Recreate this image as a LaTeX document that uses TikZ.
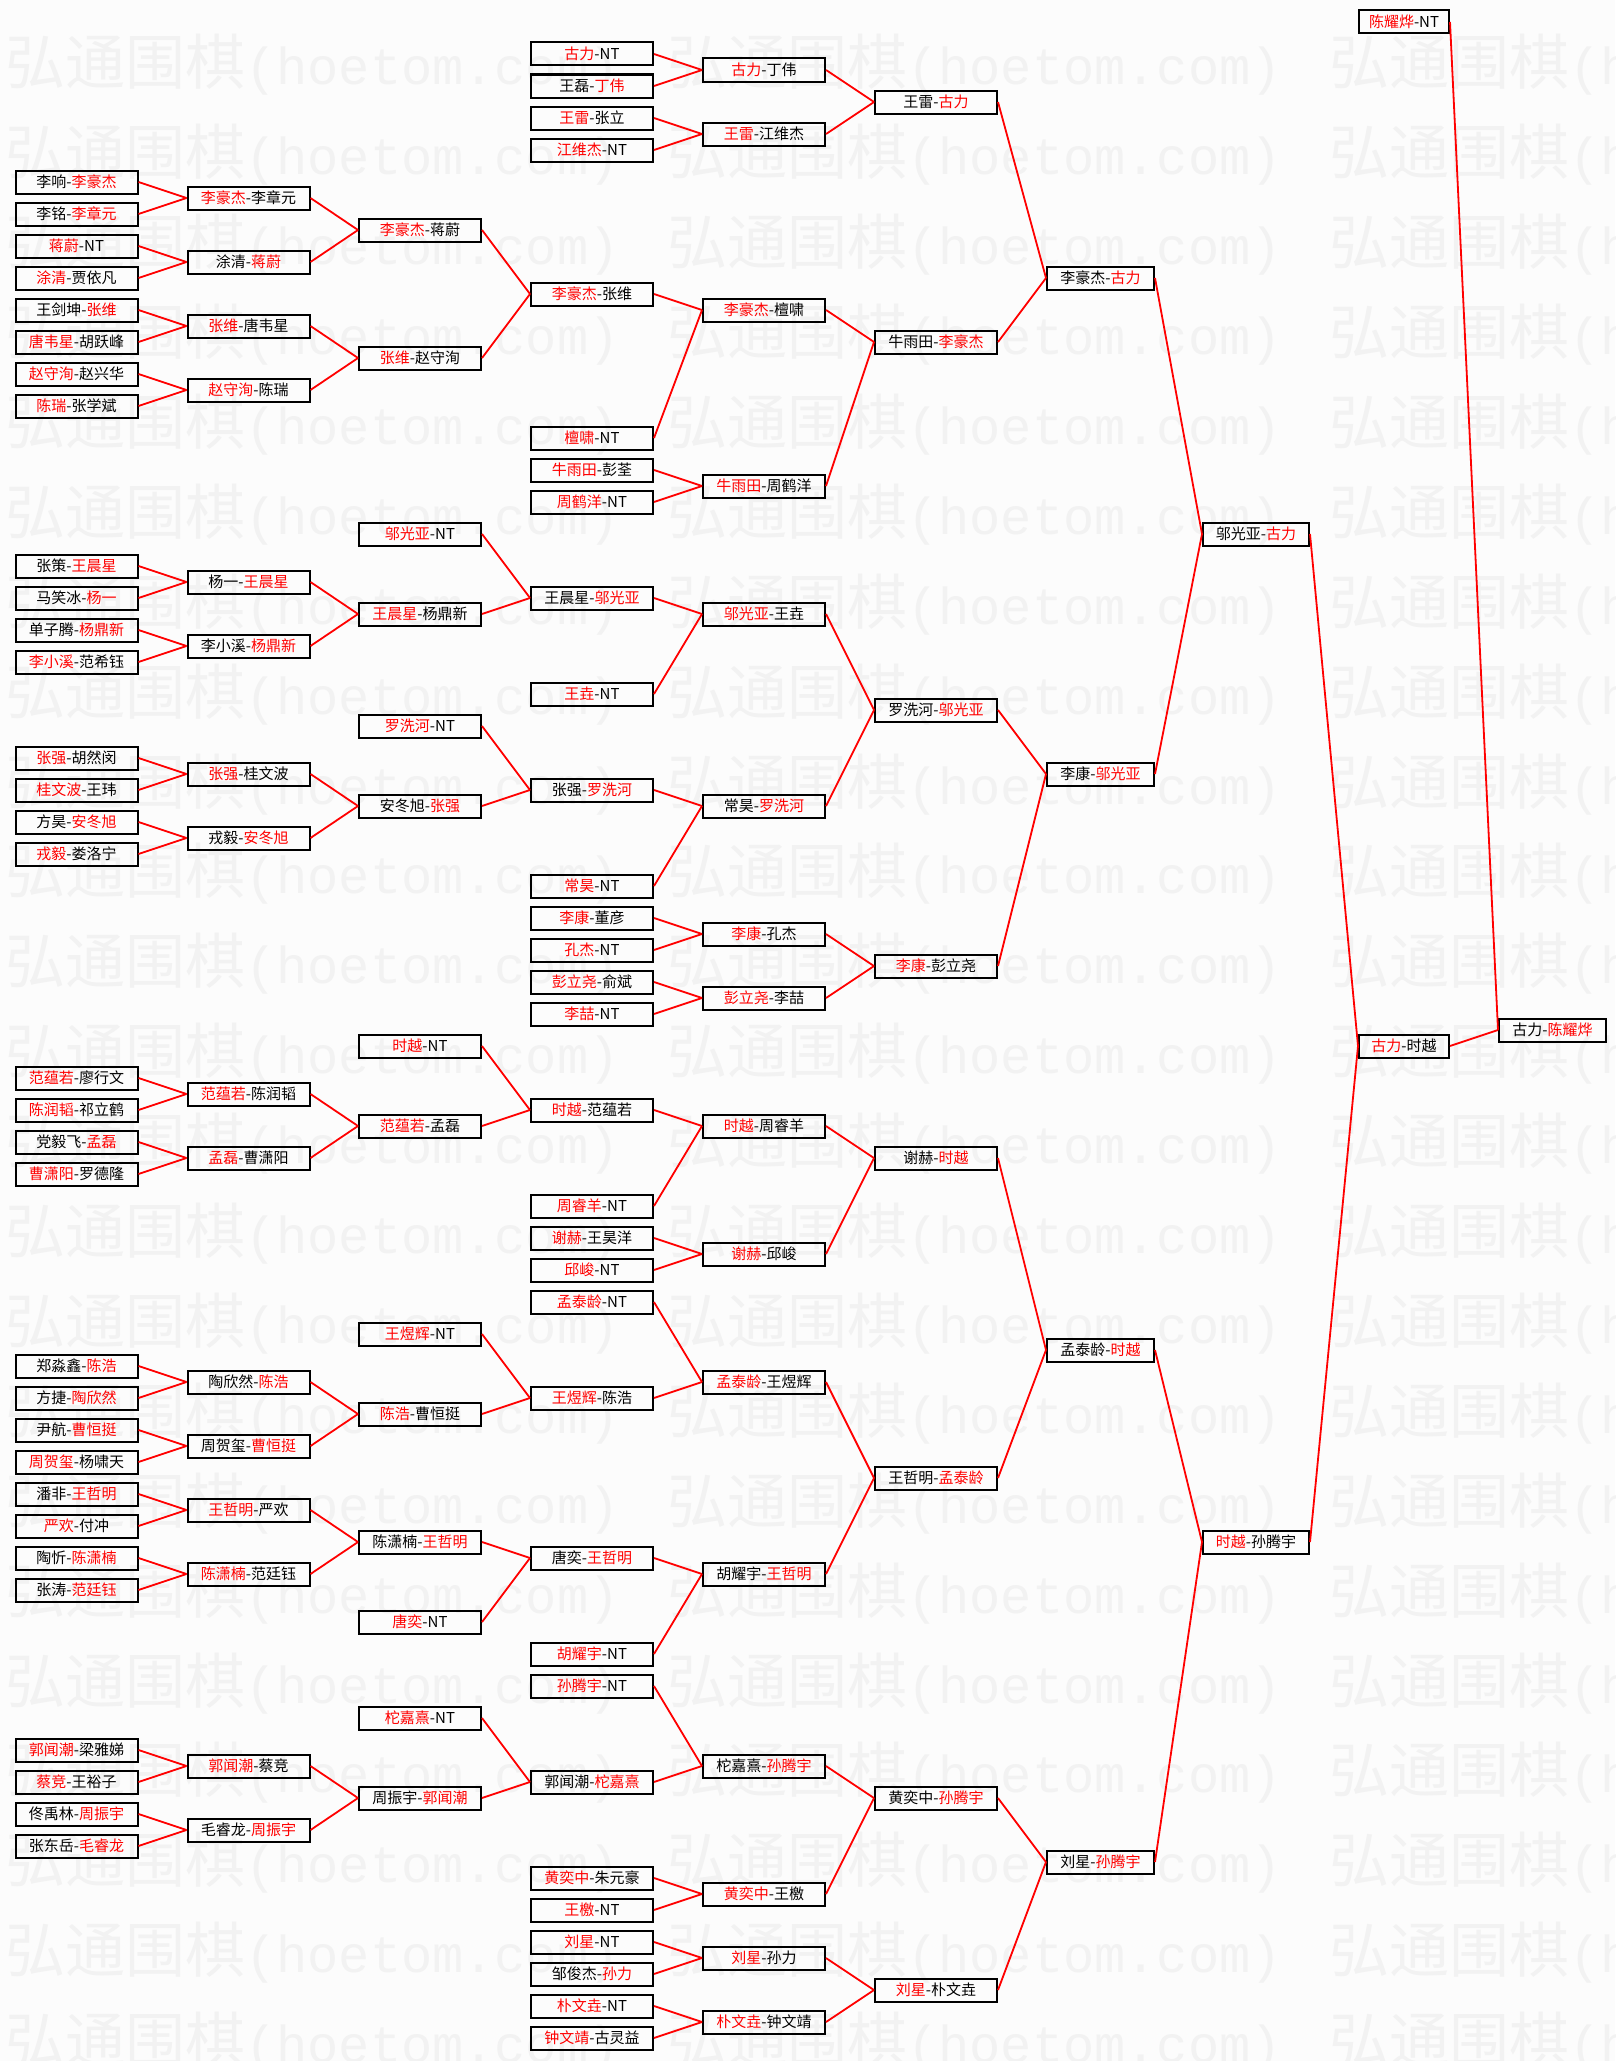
\documentclass[tikz,border=0pt]{standalone}
\usepackage{fontspec}
\setmainfont{Noto Sans CJK SC}
\newfontfamily\wmmono{Liberation Mono}
\definecolor{winred}{RGB}{255,0,0}
\definecolor{paper}{RGB}{252,252,252}
\definecolor{wmgray}{RGB}{242,242,242}
\tikzstyle{game}=[draw, line width=2pt, minimum height=23pt, inner sep=0pt, font=\fontsize{15}{15}\selectfont]
\tikzstyle{link}=[draw=winred, line width=1.8pt]
\newcommand{\wn}[1]{\textcolor{winred}{#1}}
\newcommand{\game}[4]{
\pgfmathsetmacro{\colx}{{0,76.5,248.5,420,592,764,936,1100.5,1256,1404,1552.5}[#2]}
\pgfmathsetmacro{\colw}{{0,122,122,122,122,122,122,107,106,90,107}[#2]}
\node[game, minimum width=\colw pt] (#1) at (\colx,#3) {#4};
}
\newcommand{\feeds}[3]{
\draw[link] (#1.east) -- (#3.west);
\draw[link] (#2.east) -- (#3.west);
}

\begin{document}
\begin{tikzpicture}[x=1pt,y=-32pt]
\fill[paper] (0,-1.6875) rectangle (1615,62.71875);
\useasboundingbox (0,-1.6875) rectangle (1615,62.71875);
% watermark
\begin{scope}
\clip (0,-1.6875) rectangle (1615,62.71875);
\foreach \k in {0,...,22}
  \foreach \s in {0,1,2}
    \node[anchor=west, text=wmgray, inner sep=0pt] (wm-\k-\s) at ({5+662*\s},{(11+89.9*\k)/32})
      {\fontsize{60}{60}\selectfont 弘通围棋{\wmmono\fontsize{52}{52}\selectfont(hoetom.com)}};
\end{scope}

% round 1
\game{a1}{1}{4}{李响-\wn{李豪杰}}
\game{a2}{1}{5}{李铭-\wn{李章元}}
\game{a3}{1}{6}{\wn{蒋蔚}-NT}
\game{a4}{1}{7}{\wn{涂清}-贾依凡}
\game{a5}{1}{8}{王剑坤-\wn{张维}}
\game{a6}{1}{9}{\wn{唐韦星}-胡跃峰}
\game{a7}{1}{10}{\wn{赵守洵}-赵兴华}
\game{a8}{1}{11}{\wn{陈瑞}-张学斌}
\game{a9}{1}{16}{张策-\wn{王晨星}}
\game{a10}{1}{17}{马笑冰-\wn{杨一}}
\game{a11}{1}{18}{单子腾-\wn{杨鼎新}}
\game{a12}{1}{19}{\wn{李小溪}-范希钰}
\game{a13}{1}{22}{\wn{张强}-胡然闵}
\game{a14}{1}{23}{\wn{桂文波}-王玮}
\game{a15}{1}{24}{方昊-\wn{安冬旭}}
\game{a16}{1}{25}{\wn{戎毅}-娄洛宁}
\game{a17}{1}{32}{\wn{范蕴若}-廖行文}
\game{a18}{1}{33}{\wn{陈润韬}-祁立鹤}
\game{a19}{1}{34}{党毅飞-\wn{孟磊}}
\game{a20}{1}{35}{\wn{曹潇阳}-罗德隆}
\game{a21}{1}{41}{郑淼鑫-\wn{陈浩}}
\game{a22}{1}{42}{方捷-\wn{陶欣然}}
\game{a23}{1}{43}{尹航-\wn{曹恒挺}}
\game{a24}{1}{44}{\wn{周贺玺}-杨啸天}
\game{a25}{1}{45}{潘非-\wn{王哲明}}
\game{a26}{1}{46}{\wn{严欢}-付冲}
\game{a27}{1}{47}{陶忻-\wn{陈潇楠}}
\game{a28}{1}{48}{张涛-\wn{范廷钰}}
\game{a29}{1}{53}{\wn{郭闻潮}-梁雅娣}
\game{a30}{1}{54}{\wn{蔡竞}-王裕子}
\game{a31}{1}{55}{佟禹林-\wn{周振宇}}
\game{a32}{1}{56}{张东岳-\wn{毛睿龙}}

% round 2
\game{b1}{2}{4.5}{\wn{李豪杰}-李章元}
\game{b2}{2}{6.5}{涂清-\wn{蒋蔚}}
\game{b3}{2}{8.5}{\wn{张维}-唐韦星}
\game{b4}{2}{10.5}{\wn{赵守洵}-陈瑞}
\game{b5}{2}{16.5}{杨一-\wn{王晨星}}
\game{b6}{2}{18.5}{李小溪-\wn{杨鼎新}}
\game{b7}{2}{22.5}{\wn{张强}-桂文波}
\game{b8}{2}{24.5}{戎毅-\wn{安冬旭}}
\game{b9}{2}{32.5}{\wn{范蕴若}-陈润韬}
\game{b10}{2}{34.5}{\wn{孟磊}-曹潇阳}
\game{b11}{2}{41.5}{陶欣然-\wn{陈浩}}
\game{b12}{2}{43.5}{周贺玺-\wn{曹恒挺}}
\game{b13}{2}{45.5}{\wn{王哲明}-严欢}
\game{b14}{2}{47.5}{\wn{陈潇楠}-范廷钰}
\game{b15}{2}{53.5}{\wn{郭闻潮}-蔡竞}
\game{b16}{2}{55.5}{毛睿龙-\wn{周振宇}}

% round 3
\game{c1}{3}{5.5}{\wn{李豪杰}-蒋蔚}
\game{c2}{3}{9.5}{\wn{张维}-赵守洵}
\game{c3}{3}{15}{\wn{邬光亚}-NT}
\game{c4}{3}{17.5}{\wn{王晨星}-杨鼎新}
\game{c5}{3}{21}{\wn{罗洗河}-NT}
\game{c6}{3}{23.5}{安冬旭-\wn{张强}}
\game{c7}{3}{31}{\wn{时越}-NT}
\game{c8}{3}{33.5}{\wn{范蕴若}-孟磊}
\game{c9}{3}{40}{\wn{王煜辉}-NT}
\game{c10}{3}{42.5}{\wn{陈浩}-曹恒挺}
\game{c11}{3}{46.5}{陈潇楠-\wn{王哲明}}
\game{c12}{3}{49}{\wn{唐奕}-NT}
\game{c13}{3}{52}{\wn{柁嘉熹}-NT}
\game{c14}{3}{54.5}{周振宇-\wn{郭闻潮}}

% round 4
\game{d1}{4}{0}{\wn{古力}-NT}
\game{d2}{4}{1}{王磊-\wn{丁伟}}
\game{d3}{4}{2}{\wn{王雷}-张立}
\game{d4}{4}{3}{\wn{江维杰}-NT}
\game{d5}{4}{7.5}{\wn{李豪杰}-张维}
\game{d6}{4}{12}{\wn{檀啸}-NT}
\game{d7}{4}{13}{\wn{牛雨田}-彭荃}
\game{d8}{4}{14}{\wn{周鹤洋}-NT}
\game{d9}{4}{17}{王晨星-\wn{邬光亚}}
\game{d10}{4}{20}{\wn{王垚}-NT}
\game{d11}{4}{23}{张强-\wn{罗洗河}}
\game{d12}{4}{26}{\wn{常昊}-NT}
\game{d13}{4}{27}{\wn{李康}-董彦}
\game{d14}{4}{28}{\wn{孔杰}-NT}
\game{d15}{4}{29}{\wn{彭立尧}-俞斌}
\game{d16}{4}{30}{\wn{李喆}-NT}
\game{d17}{4}{33}{\wn{时越}-范蕴若}
\game{d18}{4}{36}{\wn{周睿羊}-NT}
\game{d19}{4}{37}{\wn{谢赫}-王昊洋}
\game{d20}{4}{38}{\wn{邱峻}-NT}
\game{d21}{4}{39}{\wn{孟泰龄}-NT}
\game{d22}{4}{42}{\wn{王煜辉}-陈浩}
\game{d23}{4}{47}{唐奕-\wn{王哲明}}
\game{d24}{4}{50}{\wn{胡耀宇}-NT}
\game{d25}{4}{51}{\wn{孙腾宇}-NT}
\game{d26}{4}{54}{郭闻潮-\wn{柁嘉熹}}
\game{d27}{4}{57}{\wn{黄奕中}-朱元豪}
\game{d28}{4}{58}{\wn{王檄}-NT}
\game{d29}{4}{59}{\wn{刘星}-NT}
\game{d30}{4}{60}{邹俊杰-\wn{孙力}}
\game{d31}{4}{61}{\wn{朴文垚}-NT}
\game{d32}{4}{62}{\wn{钟文靖}-古灵益}

% round 5
\game{e1}{5}{0.5}{\wn{古力}-丁伟}
\game{e2}{5}{2.5}{\wn{王雷}-江维杰}
\game{e3}{5}{8}{\wn{李豪杰}-檀啸}
\game{e4}{5}{13.5}{\wn{牛雨田}-周鹤洋}
\game{e5}{5}{17.5}{\wn{邬光亚}-王垚}
\game{e6}{5}{23.5}{常昊-\wn{罗洗河}}
\game{e7}{5}{27.5}{\wn{李康}-孔杰}
\game{e8}{5}{29.5}{\wn{彭立尧}-李喆}
\game{e9}{5}{33.5}{\wn{时越}-周睿羊}
\game{e10}{5}{37.5}{\wn{谢赫}-邱峻}
\game{e11}{5}{41.5}{\wn{孟泰龄}-王煜辉}
\game{e12}{5}{47.5}{胡耀宇-\wn{王哲明}}
\game{e13}{5}{53.5}{柁嘉熹-\wn{孙腾宇}}
\game{e14}{5}{57.5}{\wn{黄奕中}-王檄}
\game{e15}{5}{59.5}{\wn{刘星}-孙力}
\game{e16}{5}{61.5}{\wn{朴文垚}-钟文靖}

% round 6 and on
\game{f1}{6}{1.5}{王雷-\wn{古力}}
\game{f2}{6}{9}{牛雨田-\wn{李豪杰}}
\game{f3}{6}{20.5}{罗洗河-\wn{邬光亚}}
\game{f4}{6}{28.5}{\wn{李康}-彭立尧}
\game{f5}{6}{34.5}{谢赫-\wn{时越}}
\game{f6}{6}{44.5}{王哲明-\wn{孟泰龄}}
\game{f7}{6}{54.5}{黄奕中-\wn{孙腾宇}}
\game{f8}{6}{60.5}{\wn{刘星}-朴文垚}
\game{g1}{7}{7}{李豪杰-\wn{古力}}
\game{g2}{7}{22.5}{李康-\wn{邬光亚}}
\game{g3}{7}{40.5}{孟泰龄-\wn{时越}}
\game{g4}{7}{56.5}{刘星-\wn{孙腾宇}}
\game{h1}{8}{15}{邬光亚-\wn{古力}}
\game{h2}{8}{46.5}{\wn{时越}-孙腾宇}
\game{i0}{9}{-1}{\wn{陈耀烨}-NT}
\game{i1}{9}{31}{\wn{古力}-时越}
\game{j1}{10}{30.5}{古力-\wn{陈耀烨}}

% connectors
\feeds{a1}{a2}{b1}  \feeds{a3}{a4}{b2}  \feeds{a5}{a6}{b3}  \feeds{a7}{a8}{b4}
\feeds{a9}{a10}{b5} \feeds{a11}{a12}{b6} \feeds{a13}{a14}{b7} \feeds{a15}{a16}{b8}
\feeds{a17}{a18}{b9} \feeds{a19}{a20}{b10} \feeds{a21}{a22}{b11} \feeds{a23}{a24}{b12}
\feeds{a25}{a26}{b13} \feeds{a27}{a28}{b14} \feeds{a29}{a30}{b15} \feeds{a31}{a32}{b16}
\feeds{b1}{b2}{c1}  \feeds{b3}{b4}{c2}  \feeds{b5}{b6}{c4}  \feeds{b7}{b8}{c6}
\feeds{b9}{b10}{c8} \feeds{b11}{b12}{c10} \feeds{b13}{b14}{c11} \feeds{b15}{b16}{c14}
\feeds{c1}{c2}{d5}  \feeds{c3}{c4}{d9}  \feeds{c5}{c6}{d11} \feeds{c7}{c8}{d17}
\feeds{c9}{c10}{d22} \feeds{c11}{c12}{d23} \feeds{c13}{c14}{d26}
\feeds{d1}{d2}{e1}  \feeds{d3}{d4}{e2}  \feeds{d5}{d6}{e3}  \feeds{d7}{d8}{e4}
\feeds{d9}{d10}{e5} \feeds{d11}{d12}{e6} \feeds{d13}{d14}{e7} \feeds{d15}{d16}{e8}
\feeds{d17}{d18}{e9} \feeds{d19}{d20}{e10} \feeds{d21}{d22}{e11} \feeds{d23}{d24}{e12}
\feeds{d25}{d26}{e13} \feeds{d27}{d28}{e14} \feeds{d29}{d30}{e15} \feeds{d31}{d32}{e16}
\feeds{e1}{e2}{f1}  \feeds{e3}{e4}{f2}  \feeds{e5}{e6}{f3}  \feeds{e7}{e8}{f4}
\feeds{e9}{e10}{f5} \feeds{e11}{e12}{f6} \feeds{e13}{e14}{f7} \feeds{e15}{e16}{f8}
\feeds{f1}{f2}{g1}  \feeds{f3}{f4}{g2}  \feeds{f5}{f6}{g3}  \feeds{f7}{f8}{g4}
\feeds{g1}{g2}{h1}  \feeds{g3}{g4}{h2}
\feeds{h1}{h2}{i1}
\feeds{i0}{i1}{j1}
\end{tikzpicture}
\end{document}
